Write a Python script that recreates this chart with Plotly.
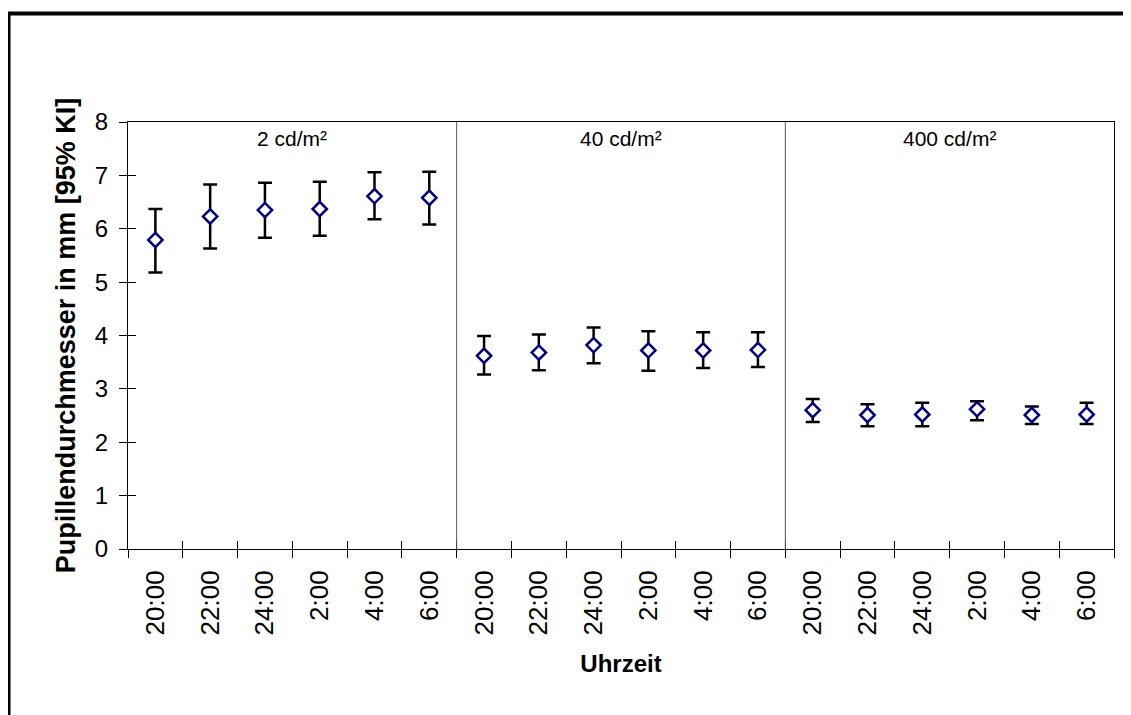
import plotly.graph_objects as go

# ---- data ----
times = ["20:00", "22:00", "24:00", "2:00", "4:00", "6:00"]
panels = ["2 cd/m²", "40 cd/m²", "400 cd/m²"]

mean_2 = [5.79, 6.23, 6.35, 6.37, 6.61, 6.58]
lo_2 = [5.18, 5.63, 5.83, 5.87, 6.18, 6.08]
hi_2 = [6.37, 6.83, 6.86, 6.88, 7.06, 7.07]

mean_40 = [3.62, 3.68, 3.82, 3.72, 3.72, 3.73]
lo_40 = [3.27, 3.35, 3.48, 3.34, 3.39, 3.41]
hi_40 = [3.99, 4.02, 4.15, 4.08, 4.06, 4.06]

mean_400 = [2.60, 2.51, 2.52, 2.62, 2.51, 2.52]
lo_400 = [2.38, 2.30, 2.30, 2.41, 2.34, 2.34]
hi_400 = [2.81, 2.71, 2.74, 2.77, 2.67, 2.74]

y_ticks = [0, 1, 2, 3, 4, 5, 6, 7, 8]

means = [mean_2, mean_40, mean_400]
los = [lo_2, lo_40, lo_400]
his = [hi_2, hi_40, hi_400]

# ---- build ----
n_per = len(times)
n_all = n_per * len(panels)
labels = times * len(panels)
centers = [i + 0.5 for i in range(n_all)]
bounds = list(range(n_all + 1))

FONT = "Arial, Liberation Sans, sans-serif"
NAVY = "#000080"

fig = go.Figure()
for p, name in enumerate(panels):
    xs = centers[p * n_per:(p + 1) * n_per]
    m = means[p]
    fig.add_trace(go.Scatter(
        x=xs, y=m, mode="markers", name=name, showlegend=False,
        marker=dict(symbol="diamond", size=11, color="white",
                    line=dict(color=NAVY, width=2.5)),
        error_y=dict(type="data", symmetric=False,
                     array=[h - v for h, v in zip(his[p], m)],
                     arrayminus=[v - l for v, l in zip(m, los[p])],
                     color="black", thickness=2.5, width=7),
    ))

# invisible trace on the overlay axes (inside half of crossing ticks)
fig.add_trace(go.Scatter(x=[bounds[0]], y=[y_ticks[0]], xaxis="x2", yaxis="y2",
                         mode="markers", marker=dict(opacity=0), showlegend=False,
                         hoverinfo="skip"))

# the page body has an 8px margin, so the figure starts at (8, 8)
OFF = 8
W, H = 1131 - OFF, 715 - OFF
L, R, T, B = 128 - OFF, 1114 - OFF, 122 - OFF, 549 - OFF

def px_x(px):
    return (px - OFF - L) / (R - L)

def px_y(py):
    return (B - (py - OFF)) / (B - T)

fig.update_layout(
    width=W, height=H,
    margin=dict(l=L, r=W - R, t=T, b=H - B),
    paper_bgcolor="white", plot_bgcolor="white",
    font=dict(family=FONT, color="black", size=22),
    xaxis=dict(
        range=[bounds[0], bounds[-1]],
        tickmode="array", tickvals=centers, ticktext=labels,
        ticks="", tickangle=-90, tickfont=dict(size=26),
        ticklabelstandoff=10,
        showgrid=False, zeroline=False,
        showline=True, linecolor="black", linewidth=1, mirror=True,
        minor=dict(tickmode="array", tickvals=bounds, ticks="outside",
                   ticklen=8, tickcolor="black", tickwidth=1, showgrid=False),
        title=dict(text="<b>Uhrzeit</b>", font=dict(size=24), standoff=20),
    ),
    xaxis2=dict(
        overlaying="x", range=[bounds[0], bounds[-1]],
        tickmode="array", tickvals=bounds, ticks="inside", ticklen=8,
        tickcolor="black", tickwidth=1, showticklabels=False,
        showgrid=False, zeroline=False, showline=False, side="bottom",
    ),
    yaxis=dict(
        range=[y_ticks[0], y_ticks[-1]], tickmode="array", tickvals=y_ticks,
        ticks="outside", ticklen=8, tickcolor="black", tickwidth=1,
        tickfont=dict(size=24), ticklabelstandoff=6,
        showgrid=False, zeroline=False,
        showline=True, linecolor="black", linewidth=1, mirror=True,
        title=dict(text="<b>Pupillendurchmesser in mm [95% KI]</b>",
                   font=dict(size=27), standoff=11),
    ),
    yaxis2=dict(
        overlaying="y", range=[y_ticks[0], y_ticks[-1]],
        tickmode="array", tickvals=y_ticks, ticks="inside", ticklen=8,
        tickcolor="black", tickwidth=1, showticklabels=False,
        showgrid=False, zeroline=False, showline=False, side="left",
    ),
)

# panel dividers
for p in range(1, len(panels)):
    xb = bounds[p * n_per]
    fig.add_shape(type="line", xref="x", yref="y", x0=xb, x1=xb,
                  y0=y_ticks[0], y1=y_ticks[-1],
                  line=dict(color="#555555", width=1))

# panel labels
for p, name in enumerate(panels):
    xc = (bounds[p * n_per] + bounds[(p + 1) * n_per]) / 2
    fig.add_annotation(x=xc, xref="x", y=1, yref="paper", yanchor="top",
                       yshift=-3, text=name, showarrow=False,
                       font=dict(size=21, family=FONT, color="black"))

# outer chart-area border
fig.add_shape(type="rect", xref="paper", yref="paper",
              x0=px_x(8.5), x1=px_x(1145), y0=px_y(730), y1=px_y(13.5),
              line=dict(color="black", width=4), fillcolor="rgba(0,0,0,0)",
              layer="above")

fig.write_html("out.html")
